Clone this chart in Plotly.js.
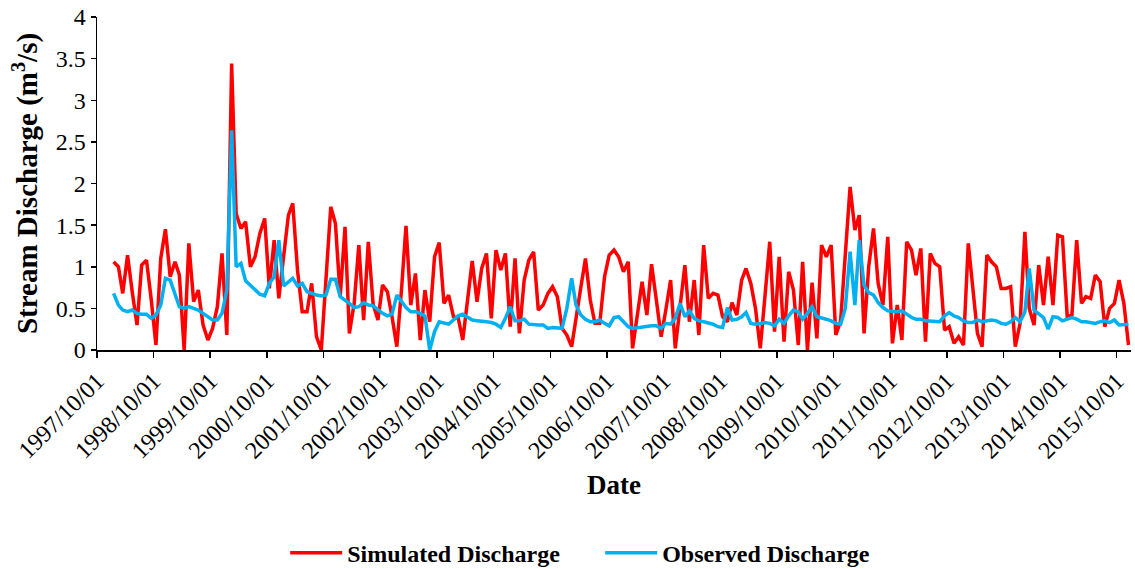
<!DOCTYPE html>
<html>
<head>
<meta charset="utf-8">
<script src="https://cdn.plot.ly/plotly-3.0.1.min.js"></script>
<style>
  html, body { margin: 0; padding: 0; background: #ffffff; }
  #chart { width: 1135px; height: 569px; }
</style>
</head>
<body>
<div id="chart"></div>
<script>
// Monthly stream discharge (m3/s), January 1998 - December 2015, one row per calendar year.
const firstYear = 1998;

const simulated = [
  1.06, 1.00, 0.68, 1.14, 0.70, 0.30, 1.02, 1.08, 0.60, 0.06, 1.10, 1.45,
  0.88, 1.06, 0.90, 0.00, 1.28, 0.58, 0.72, 0.30, 0.12, 0.26, 0.52, 1.16,
  0.18, 3.44, 1.64, 1.46, 1.54, 1.00, 1.12, 1.40, 1.58, 0.74, 1.32, 0.62,
  1.12, 1.62, 1.76, 0.95, 0.46, 0.46, 0.80, 0.16, 0.00, 0.85, 1.72, 1.52,
  0.64, 1.48, 0.20, 0.56, 1.26, 0.36, 1.30, 0.55, 0.36, 0.78, 0.70, 0.40,
  0.04, 0.75, 1.49, 0.54, 0.92, 0.12, 0.72, 0.34, 1.12, 1.29, 0.56, 0.66,
  0.40, 0.38, 0.12, 0.60, 1.07, 0.58, 0.98, 1.16, 0.38, 1.20, 0.96, 1.16,
  0.28, 1.10, 0.20, 0.84, 1.08, 1.18, 0.48, 0.54, 0.68, 0.76, 0.64, 0.26,
  0.18, 0.04, 0.35, 0.75, 1.10, 0.60, 0.32, 0.32, 0.88, 1.14, 1.20, 1.12,
  0.94, 1.06, 0.02, 0.40, 0.82, 0.42, 1.03, 0.60, 0.16, 0.48, 0.84, 0.02,
  0.48, 1.02, 0.34, 0.84, 0.18, 1.26, 0.62, 0.68, 0.66, 0.40, 0.34, 0.57,
  0.42, 0.84, 0.98, 0.80, 0.50, 0.02, 0.64, 1.30, 0.22, 1.12, 0.10, 0.94,
  0.72, 0.06, 1.06, 0.00, 0.81, 0.14, 1.26, 1.12, 1.26, 0.18, 0.35, 1.10,
  1.96, 1.44, 1.62, 0.20, 1.00, 1.46, 0.80, 0.54, 1.36, 0.08, 0.54, 0.12,
  1.30, 1.20, 0.90, 1.22, 0.10, 1.16, 1.04, 1.00, 0.24, 0.28, 0.08, 0.16,
  0.06, 1.28, 0.76, 0.20, 0.04, 1.14, 1.06, 1.00, 0.74, 0.74, 0.76, 0.04,
  0.32, 1.42, 0.50, 0.30, 1.02, 0.54, 1.12, 0.54, 1.38, 1.36, 0.40, 0.42,
  1.32, 0.56, 0.64, 0.62, 0.90, 0.82, 0.28, 0.50, 0.56, 0.84, 0.56, 0.06
];

const observed = [
  0.68, 0.54, 0.48, 0.46, 0.48, 0.44, 0.43, 0.43, 0.38, 0.42, 0.54, 0.86,
  0.84, 0.68, 0.52, 0.50, 0.52, 0.50, 0.48, 0.44, 0.40, 0.36, 0.36, 0.44,
  0.72, 2.64, 1.00, 1.04, 0.83, 0.78, 0.73, 0.67, 0.65, 0.80, 0.88, 1.32,
  0.77, 0.82, 0.86, 0.77, 0.80, 0.70, 0.68, 0.66, 0.65, 0.66, 0.85, 0.85,
  0.64, 0.60, 0.56, 0.51, 0.52, 0.57, 0.54, 0.53, 0.48, 0.44, 0.41, 0.43,
  0.66, 0.58, 0.51, 0.46, 0.46, 0.44, 0.41, 0.00, 0.22, 0.34, 0.33, 0.31,
  0.36, 0.41, 0.43, 0.40, 0.36, 0.35, 0.35, 0.34, 0.33, 0.31, 0.27, 0.38,
  0.52, 0.35, 0.35, 0.37, 0.31, 0.30, 0.30, 0.30, 0.26, 0.27, 0.27, 0.26,
  0.50, 0.86, 0.54, 0.42, 0.37, 0.34, 0.34, 0.36, 0.32, 0.29, 0.39, 0.40,
  0.34, 0.28, 0.26, 0.27, 0.27, 0.29, 0.29, 0.29, 0.26, 0.32, 0.31, 0.38,
  0.56, 0.40, 0.47, 0.38, 0.35, 0.34, 0.33, 0.31, 0.28, 0.27, 0.51, 0.36,
  0.37, 0.40, 0.45, 0.32, 0.31, 0.32, 0.33, 0.32, 0.29, 0.37, 0.32, 0.41,
  0.48, 0.46, 0.37, 0.44, 0.52, 0.40, 0.38, 0.37, 0.35, 0.32, 0.31, 0.50,
  1.18, 0.54, 1.32, 0.78, 0.69, 0.66, 0.57, 0.51, 0.47, 0.46, 0.46, 0.47,
  0.43, 0.39, 0.37, 0.37, 0.35, 0.35, 0.34, 0.34, 0.41, 0.45, 0.41, 0.39,
  0.35, 0.33, 0.33, 0.36, 0.34, 0.35, 0.36, 0.35, 0.32, 0.31, 0.34, 0.39,
  0.34, 0.46, 0.98, 0.48, 0.43, 0.39, 0.25, 0.40, 0.39, 0.35, 0.37, 0.39,
  0.37, 0.34, 0.34, 0.33, 0.32, 0.34, 0.35, 0.33, 0.36, 0.30, 0.30, 0.31
];

const seriesNames = ['Simulated Discharge', 'Observed Discharge'];
const seriesColors = ['#FF0000', '#00B0F0'];

// Each monthly value sits in the middle of its month.
const dates = simulated.map((_, i) => {
  const year = firstYear + Math.floor(i / 12);
  const month = String((i % 12) + 1).padStart(2, '0');
  return `${year}-${month}-16`;
});

const serif = "'Liberation Serif', 'Times New Roman', serif";

const traces = [simulated, observed].map((values, k) => ({
  type: 'scatter',
  mode: 'lines',
  name: seriesNames[k],
  x: dates,
  y: values,
  line: { color: seriesColors[k], width: 3.5 },
  hoverinfo: 'x+y'
}));

const layout = {
  width: 1135,
  height: 569,
  margin: { l: 97, r: 4, t: 17, b: 219, autoexpand: false },
  paper_bgcolor: '#ffffff',
  plot_bgcolor: '#ffffff',
  font: { family: serif, color: '#000000', size: 24 },
  showlegend: true,
  legend: {
    orientation: 'h',
    x: 0.182, xanchor: 'left',
    y: -0.61, yanchor: 'middle',
    itemwidth: 52,
    entrywidth: 248,
    entrywidthmode: 'pixels',
    font: { family: serif, size: 24, weight: 'bold', color: '#000000' },
    bgcolor: 'rgba(0,0,0,0)'
  },
  xaxis: {
    type: 'date',
    range: ['1997-10-01', '2016-01-01'],
    tick0: '1997-10-01',
    dtick: 'M12',
    tickformat: '%Y/%m/%d',
    tickangle: -45,
    ticks: 'outside',
    ticklen: 6,
    tickwidth: 1.5,
    tickcolor: '#000000',
    showline: true,
    linecolor: '#000000',
    linewidth: 1.5,
    showgrid: false,
    zeroline: false,
    tickfont: { family: serif, size: 24, color: '#000000' },
    title: {
      text: 'Date',
      standoff: 12,
      font: { family: serif, size: 27, weight: 'bold', color: '#000000' }
    }
  },
  yaxis: {
    range: [0, 4],
    dtick: 0.5,
    ticks: 'outside',
    ticklen: 5,
    tickwidth: 1.5,
    tickcolor: '#000000',
    showline: true,
    linecolor: '#000000',
    linewidth: 1.5,
    showgrid: false,
    zeroline: false,
    tickfont: { family: serif, size: 24, color: '#000000' },
    title: {
      text: 'Stream Discharge (m<sup>3</sup>/s)',
      standoff: 9,
      font: { family: serif, size: 29, weight: 'bold', color: '#000000' }
    }
  }
};

Plotly.newPlot('chart', traces, layout, { displayModeBar: false, staticPlot: true });
</script>
</body>
</html>
